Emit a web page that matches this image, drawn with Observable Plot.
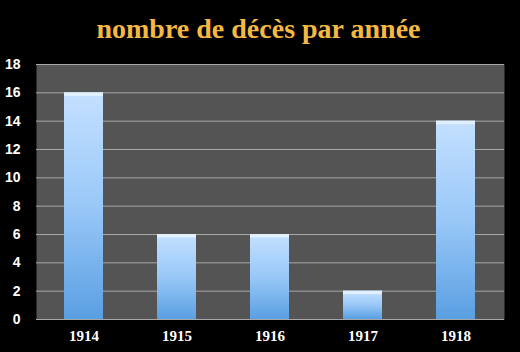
<!DOCTYPE html>
<html><head><meta charset="utf-8">
<script src="https://cdn.jsdelivr.net/npm/d3@7"></script>
<script src="https://cdn.jsdelivr.net/npm/@observablehq/plot@0.6"></script>
<style>
html,body{margin:0;padding:0;background:#000;}
</style>
</head><body>
<div id="chart"></div>
<script>
const years = ["1914","1915","1916","1917","1918"];
const deaths = [16, 6, 6, 2, 14];
const yTicks = [0,2,4,6,8,10,12,14,16,18];
const title = "nombre de décès par année";

const data = years.map((y, i) => ({year: y, value: deaths[i]}));

const defs = () => {
  const ns = "http://www.w3.org/2000/svg";
  const g = document.createElementNS(ns, "defs");
  g.innerHTML = `<linearGradient id="barGrad" x1="0" y1="0" x2="0" y2="1">
    <stop offset="0" stop-color="#c4e0ff"/>
    <stop offset="0.5" stop-color="#99c8f8"/>
    <stop offset="1" stop-color="#5a9fe2"/>
  </linearGradient>`;
  return g;
};

const chart = Plot.plot({
  width: 520,
  height: 352,
  marginTop: 64,
  marginBottom: 33,
  marginLeft: 36,
  marginRight: 16,
  style: {background: "#000", color: "#fff", fontFamily: "'Liberation Sans', sans-serif", fontSize: "14px"},
  x: {domain: years, paddingInner: 0.58, paddingOuter: 0.29, label: null},
  y: {domain: [0, 18], label: null},
  marks: [
    defs,
    Plot.frame({fill: "#545454"}),
    Plot.ruleY(yTicks, {stroke: "#a8a8a8", strokeWidth: 1}),
    Plot.barY(data, {x: "year", y: "value", fill: "url(#barGrad)"}),
    Plot.barY(data, {x: "year", y1: "value", y2: d => d.value - 0.25, fill: "#e8f4ff", fillOpacity: 0.8}),
    Plot.axisY({ticks: yTicks, tickSize: 0, tickPadding: 16, fontSize: 14, fontWeight: "bold", fill: "#fff", fontFamily: "'Liberation Sans', sans-serif"}),
    Plot.axisX({tickSize: 0, tickPadding: 11, fontSize: 15, fontWeight: "bold", fill: "#fff", fontFamily: "'Liberation Serif', serif"}),
    Plot.text([title], {frameAnchor: "top", dx: -12, dy: -46, fill: "#f5b942", fontSize: 28, fontWeight: "bold", fontFamily: "'Liberation Serif', serif"})
  ]
});
document.getElementById("chart").appendChild(chart);
</script>
</body></html>
